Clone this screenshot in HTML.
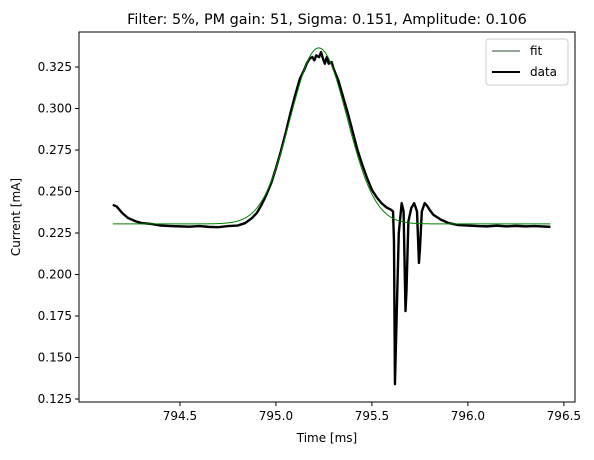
<!DOCTYPE html>
<html><head><meta charset="utf-8"><style>
body{margin:0;background:#fff;font-family:"Liberation Sans","DejaVu Sans",sans-serif;}
svg text{font-family:"DejaVu Sans","Liberation Sans",sans-serif;}
</style></head><body>
<svg id="chart" width="594" height="455" xmlns="http://www.w3.org/2000/svg"></svg>
<script>
const xTicks=[794.5,795.0,795.5,796.0,796.5];
const xTickLabels=["794.5","795.0","795.5","796.0","796.5"];
const yTicks=[0.125,0.150,0.175,0.200,0.225,0.250,0.275,0.300,0.325];
const yTickLabels=["0.125","0.150","0.175","0.200","0.225","0.250","0.275","0.300","0.325"];
const fitParams=[795.223,0.147,0.106,0.2305]; // center, sigma, amplitude, offset
const fitRange=[794.15,796.43];
const dataT=[794.15,794.17,794.2,794.23,794.27,794.3,794.35,794.4,794.45,794.5,794.55,794.6,794.65,794.7,794.75,794.8,794.84,794.875,794.9,794.925,794.95,794.975,795.0,795.025,795.05,795.075,795.1,795.125,795.15,795.16,795.175,795.19,795.2,795.21,795.225,795.235,795.245,795.255,795.265,795.275,795.29,795.3,795.325,795.35,795.375,795.4,795.425,795.45,795.475,795.5,795.525,795.55,795.575,795.6,795.61,795.615,795.62,795.63,795.64,795.655,795.665,795.675,795.68,795.69,795.705,795.72,795.735,795.745,795.75,795.76,795.775,795.79,795.8,795.82,795.86,795.9,795.95,796.0,796.05,796.1,796.15,796.2,796.25,796.3,796.35,796.43];
const dataV=[0.242,0.241,0.237,0.234,0.232,0.231,0.2305,0.2295,0.2292,0.229,0.2288,0.2292,0.2287,0.2285,0.2292,0.2295,0.231,0.234,0.237,0.242,0.248,0.255,0.264,0.274,0.285,0.297,0.308,0.318,0.324,0.327,0.330,0.331,0.329,0.332,0.331,0.334,0.330,0.327,0.331,0.327,0.328,0.324,0.317,0.307,0.297,0.286,0.275,0.266,0.258,0.251,0.2465,0.243,0.2405,0.239,0.238,0.22,0.134,0.18,0.225,0.243,0.238,0.178,0.19,0.232,0.24,0.243,0.238,0.207,0.215,0.238,0.243,0.241,0.239,0.236,0.233,0.231,0.2298,0.2295,0.2292,0.229,0.2294,0.229,0.2293,0.229,0.2292,0.2287];
const L=79,R=575,T=32,B=402;
const X0=793.974,X1=796.558,Y0=0.1232,Y1=0.3461;
const sx=v=>L+(v-X0)/(X1-X0)*(R-L);
const sy=v=>B-(v-Y0)/(Y1-Y0)*(B-T);
const svg=document.getElementById('chart');
const NS="http://www.w3.org/2000/svg";
function mk(tag,attrs,parent){const e=document.createElementNS(NS,tag);for(const k in attrs)e.setAttribute(k,attrs[k]);(parent||svg).appendChild(e);return e;}
const dp=dataT.map((t,i)=>sx(t).toFixed(2)+","+sy(dataV[i]).toFixed(2));
const data=mk('polyline',{points:dp.join(' '),fill:'none',stroke:'#000','stroke-width':2.4,'stroke-linejoin':'round'});


let fp=[];
for(let i=0;i<=400;i++){const t=fitRange[0]+(fitRange[1]-fitRange[0])*i/400;const v=fitParams[3]+fitParams[2]*Math.exp(-Math.pow(t-fitParams[0],2)/(2*fitParams[1]*fitParams[1]));fp.push(sx(t).toFixed(2)+","+sy(v).toFixed(2));}
const fit=mk('polyline',{points:fp.join(' '),fill:'none',stroke:'#008000','stroke-width':1});


const fr=mk('rect',{x:L,y:T,width:R-L,height:B-T,fill:'none',stroke:'#000','stroke-width':1});


xTicks.forEach((v,i)=>{const x=sx(v);mk('line',{x1:x,x2:x,y1:B,y2:B+4,stroke:'#000'});
const t=mk('text',{x:x,y:B+18,'text-anchor':'middle','font-size':12,fill:'#000'});t.textContent=xTickLabels[i];

});
yTicks.forEach((v,i)=>{const y=sy(v);mk('line',{x1:L-4,x2:L,y1:y,y2:y,stroke:'#000'});
const t=mk('text',{x:L-7,y:y+4,'text-anchor':'end','font-size':12,fill:'#000'});t.textContent=yTickLabels[i];

});
const xt=mk('text',{x:(L+R)/2,y:442,'text-anchor':'middle','font-size':12});xt.textContent="Time [ms]";


const yt=mk('text',{x:0,y:0,'text-anchor':'middle','font-size':12,transform:`translate(20,${(T+B)/2}) rotate(-90)`});yt.textContent="Current [mA]";


const tt=mk('text',{x:(L+R)/2,y:24,'text-anchor':'middle','font-size':14.4});tt.textContent="Filter: 5%, PM gain: 51, Sigma: 0.151, Amplitude: 0.106";


const lg=mk('g',{});


mk('rect',{x:486,y:39,width:82,height:46,rx:3,fill:'#fff',stroke:'#ccc'},lg);
mk('line',{x1:492,x2:520,y1:51,y2:51,stroke:'#2f4f2f','stroke-width':1},lg);
const l1=mk('text',{x:530,y:55,'font-size':12},lg);l1.textContent="fit";


mk('line',{x1:492,x2:520,y1:72,y2:72,stroke:'#000','stroke-width':2},lg);
const l2=mk('text',{x:530,y:76,'font-size':12},lg);l2.textContent="data";


</script>
</body></html>
